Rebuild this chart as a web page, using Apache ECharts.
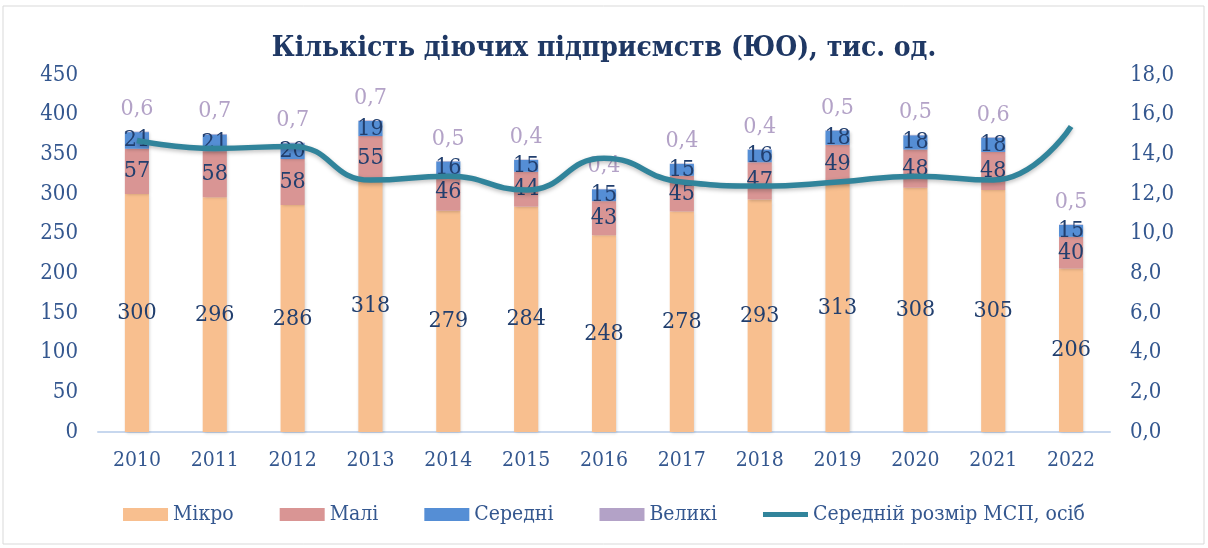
<!DOCTYPE html>
<html>
<head>
<meta charset="utf-8">
<script src="https://cdn.jsdelivr.net/npm/echarts@6/dist/echarts.min.js"></script>
<style>
  html, body { margin: 0; padding: 0; background: #fff; }
  #chart { width: 1208px; height: 548px; }
</style>
</head>
<body>
<div id="chart"></div>
<script>
const years = ['2010', '2011', '2012', '2013', '2014', '2015', '2016', '2017', '2018', '2019', '2020', '2021', '2022'];
const micro = [300, 296, 286, 318, 279, 284, 248, 278, 293, 313, 308, 305, 206];
const small = [57, 58, 58, 55, 46, 44, 43, 45, 47, 49, 48, 48, 40];
const medium = [21, 21, 20, 19, 16, 15, 15, 15, 16, 18, 18, 18, 15];
const large = [0.6, 0.7, 0.7, 0.7, 0.5, 0.4, 0.4, 0.4, 0.4, 0.5, 0.5, 0.6, 0.5];
const avgSize = [14.7, 14.3, 14.4, 12.7, 12.9, 12.2, 13.8, 12.6, 12.4, 12.6, 12.9, 12.7, 15.4];

const serif = "'DejaVu Serif Condensed', 'DejaVu Serif', serif";
const labelColor = '#223f6e';
const axisColor = '#34578f';

const chart = echarts.init(document.getElementById('chart'));

const barShadow = { shadowBlur: 3, shadowColor: 'rgba(0,0,0,0.18)', shadowOffsetX: 1, shadowOffsetY: 1 };
const innerLabel = {
    show: true,
    position: 'inside',
    color: labelColor,
    fontFamily: serif,
    fontSize: 23
};

const option = {
    backgroundColor: '#fff',
    animation: false,
    graphic: [{
        type: 'rect',
        shape: { x: 3, y: 6, width: 1201, height: 538 },
        style: { fill: 'none', stroke: '#d9d9d9', lineWidth: 1 },
        silent: true
    }],
    title: {
        text: 'Кількість діючих підприємств (ЮО), тис. од.',
        left: 'center',
        top: 30,
        textStyle: { fontFamily: serif, fontWeight: 'bold', fontSize: 28, color: '#1f3864' }
    },
    legend: {
        bottom: 18,
        left: 'center',
        itemWidth: 45,
        itemHeight: 13,
        itemGap: 46,
        textStyle: { fontFamily: serif, fontSize: 21, color: axisColor },
        data: [
            { name: 'Мікро', icon: 'rect' },
            { name: 'Малі', icon: 'rect' },
            { name: 'Середні', icon: 'rect' },
            { name: 'Великі', icon: 'rect' },
            { name: 'Середній розмір МСП, осіб', icon: 'path://M0,0h45v5h-45z' }
        ]
    },
    grid: { left: 98, right: 98, top: 75, bottom: 116 },
    xAxis: {
        type: 'category',
        data: years,
        axisLine: { lineStyle: { color: '#c7d7ee', width: 2 } },
        axisTick: { show: false },
        axisLabel: { color: axisColor, fontFamily: serif, fontSize: 21, margin: 18 }
    },
    yAxis: [
        {
            type: 'value',
            min: 0,
            max: 450,
            interval: 50,
            axisLine: { show: false },
            axisTick: { show: false },
            splitLine: { show: false },
            axisLabel: { color: axisColor, fontFamily: serif, fontSize: 22, margin: 20 }
        },
        {
            type: 'value',
            min: 0,
            max: 18,
            interval: 2,
            axisLine: { show: false },
            axisTick: { show: false },
            splitLine: { show: false },
            axisLabel: {
                color: axisColor, fontFamily: serif, fontSize: 22, margin: 20,
                formatter: v => v.toFixed(1).replace('.', ',')
            }
        }
    ],
    series: [
        {
            name: 'Мікро', type: 'bar', stack: 'total', barWidth: '31%',
            itemStyle: Object.assign({ color: '#f8bf8f' }, barShadow),
            label: innerLabel,
            data: micro
        },
        {
            name: 'Малі', type: 'bar', stack: 'total',
            itemStyle: Object.assign({ color: '#d99594' }, barShadow),
            label: innerLabel,
            data: small
        },
        {
            name: 'Середні', type: 'bar', stack: 'total',
            itemStyle: Object.assign({ color: '#558ed5' }, barShadow),
            label: innerLabel,
            data: medium
        },
        {
            name: 'Великі', type: 'bar', stack: 'total',
            itemStyle: { color: '#b3a2c7' },
            label: {
                show: true, position: 'top', distance: 11,
                color: '#b3a2c7', fontFamily: serif, fontSize: 23,
                formatter: p => p.value.toFixed(1).replace('.', ',')
            },
            data: large
        },
        {
            name: 'Середній розмір МСП, осіб', type: 'line', yAxisIndex: 1,
            smooth: true, showSymbol: false, symbol: 'none',
            itemStyle: { color: '#31849b' },
            lineStyle: { width: 5.5, color: '#31849b', shadowColor: 'rgba(0,0,0,0.25)', shadowBlur: 4, shadowOffsetY: 2 },
            data: avgSize
        }
    ]
};

chart.setOption(option);
</script>
</body>
</html>
